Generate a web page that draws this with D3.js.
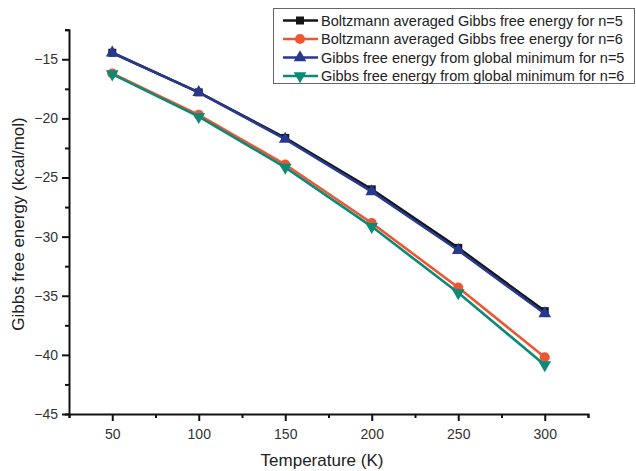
<!DOCTYPE html>
<html>
  <head>
    <meta charset="UTF-8" />
    <script src="https://d3js.org/d3.v7.min.js"></script>
    <style>
      body {
        margin: 0;
        background: #fff;
        font-family: "Liberation Sans", Arial, sans-serif;
      }
      .axis path,
      .axis line {
        stroke: #111;
        stroke-width: 2px;
      }
      .axis text {
        font-size: 14px;
        fill: #333;
        font-family: "Liberation Sans", Arial, sans-serif;
      }
    </style>
  </head>
  <body>
    <svg width="636" height="471"></svg>
    <script>
      // data
      const temps = [50, 100, 150, 200, 250, 300];
      const boltzN5 = [-14.45, -17.8, -21.65, -26.0, -30.95, -36.3];
      const boltzN6 = [-16.2, -19.7, -23.9, -28.85, -34.3, -40.2];
      const globalN5 = [-14.45, -17.8, -21.75, -26.2, -31.15, -36.5];
      const globalN6 = [-16.25, -19.85, -24.15, -29.15, -34.75, -40.85];

      const xMajor = [50, 100, 150, 200, 250, 300];
      const xMinor = [25, 75, 125, 175, 225, 275, 325];
      const yMajor = [-45, -40, -35, -30, -25, -20, -15];
      const yMinor = [-42.5, -37.5, -32.5, -27.5, -22.5, -17.5, -12.5];

      const series = [
        { name: "Boltzmann averaged Gibbs free energy for n=5", values: boltzN5, color: "#151515", symbol: d3.symbolSquare, size: 64, rot: 0 },
        { name: "Boltzmann averaged Gibbs free energy for n=6", values: boltzN6, color: "#ee5530", symbol: d3.symbolCircle, size: 80, rot: 0 },
        { name: "Gibbs free energy from global minimum for n=5", values: globalN5, color: "#27388f", symbol: d3.symbolTriangle, size: 70, rot: 0 },
        { name: "Gibbs free energy from global minimum for n=6", values: globalN6, color: "#0b8a78", symbol: d3.symbolTriangle, size: 70, rot: 180 },
      ];

      const svg = d3.select("svg");
      const x = d3.scaleLinear().domain([25, 325]).range([69, 588]);
      const y = d3.scaleLinear().domain([-45, -12.5]).range([414, 29.7]);

      // axes: minor ticks first, then major with labels
      svg.append("g").attr("class", "axis")
        .attr("transform", "translate(0,414)")
        .call(d3.axisBottom(x).tickValues(xMinor).tickSize(4).tickFormat(""));
      svg.append("g").attr("class", "axis")
        .attr("transform", "translate(0,414)")
        .call(d3.axisBottom(x).tickValues(xMajor).tickSize(7).tickPadding(8).tickFormat(d3.format("d")))
        .call((g) => g.select(".domain").remove());

      svg.append("g").attr("class", "axis")
        .attr("transform", "translate(69,0)")
        .call(d3.axisLeft(y).tickValues(yMinor).tickSize(4).tickFormat(""));
      svg.append("g").attr("class", "axis")
        .attr("transform", "translate(69,0)")
        .call(d3.axisLeft(y).tickValues(yMajor).tickSize(7).tickPadding(4).tickFormat(d3.format("d")))
        .call((g) => g.select(".domain").remove());

      // axis titles
      svg.append("text")
        .attr("x", 322)
        .attr("y", 466)
        .attr("text-anchor", "middle")
        .style("font-size", "17px")
        .style("fill", "#222")
        .text("Temperature (K)");
      svg.append("text")
        .attr("transform", "translate(24,224) rotate(-90)")
        .attr("text-anchor", "middle")
        .style("font-size", "17px")
        .style("fill", "#222")
        .text("Gibbs free energy (kcal/mol)");

      // lines and markers
      const line = d3.line()
        .x((d, i) => x(temps[i]))
        .y((d) => y(d));

      series.forEach((s) => {
        svg.append("path")
          .datum(s.values)
          .attr("d", line)
          .attr("fill", "none")
          .attr("stroke", s.color)
          .attr("stroke-width", 2.6);
        svg.selectAll(null)
          .data(s.values)
          .join("path")
          .attr("d", d3.symbol(s.symbol, s.size))
          .attr("transform", (d, i) => `translate(${x(temps[i])},${y(d)}) rotate(${s.rot})`)
          .attr("fill", s.color);
      });

      // legend
      const legend = svg.append("g");
      legend.append("rect")
        .attr("x", 273.5)
        .attr("y", 8.5)
        .attr("width", 361)
        .attr("height", 75)
        .attr("fill", "#fff")
        .attr("stroke", "#666")
        .attr("stroke-width", 1);
      series.forEach((s, i) => {
        const ly = 20.5 + i * 18.5;
        legend.append("line")
          .attr("x1", 283).attr("x2", 318)
          .attr("y1", ly).attr("y2", ly)
          .attr("stroke", s.color)
          .attr("stroke-width", 2.6);
        legend.append("path")
          .attr("d", d3.symbol(s.symbol, s.size))
          .attr("transform", `translate(300,${ly}) rotate(${s.rot})`)
          .attr("fill", s.color);
        legend.append("text")
          .attr("x", 321)
          .attr("y", ly + 5)
          .style("font-size", "14.5px")
          .style("fill", "#222")
          .text(s.name);
      });
    </script>
  </body>
</html>
